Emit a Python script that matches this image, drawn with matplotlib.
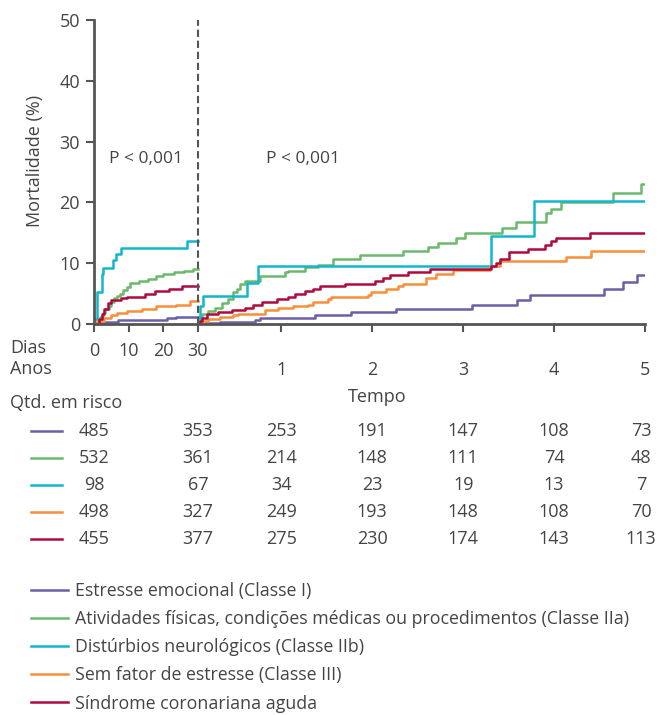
import numpy as np
import matplotlib
matplotlib.use('Agg')
import matplotlib.pyplot as plt
from matplotlib.lines import Line2D
from matplotlib.transforms import blended_transform_factory

plt.rcParams['font.family'] = ['Open Sans', 'DejaVu Sans']

# series names and colours
names = ['Estresse emocional (Classe I)',
         'Atividades físicas, condições médicas ou procedimentos (Classe IIa)',
         'Distúrbios neurológicos (Classe IIb)',
         'Sem fator de estresse (Classe III)',
         'Síndrome coronariana aguda']
colors = ['#6a5fa8', '#6bb96d', '#13b6cc', '#f78f3b', '#ae0a3e']

# first 30 days (days, mortality %)
days_I = [0, 1.5, 3.5, 6.8, 21, 23.6, 30]
mort_I = [0, 0.2, 0.4, 0.7, 1.0, 1.2, 1.2]
days_IIa = [0, 0.8, 1.7, 2.5, 3.3, 4.2, 5, 5.8, 6.6, 7.5, 8.4, 9.5, 10.5, 13, 15.5, 18, 20, 23, 26, 28.5, 30]
mort_IIa = [0, 0.6, 1.2, 1.8, 2.4, 3.0, 3.6, 4.2, 4.6, 5.0, 5.6, 6.1, 6.7, 7.0, 7.4, 7.9, 8.2, 8.5, 8.7, 9.0, 9.0]
days_IIb = [0, 0.96, 2.2, 2.7, 5.6, 6.3, 7.7, 26.9, 30]
mort_IIb = [0.8, 5.2, 8.2, 9.2, 10.5, 11.5, 12.5, 13.7, 13.7]
days_III = [0, 1, 3, 5, 6.7, 9.5, 14, 18, 23.6, 27.7, 30]
mort_III = [0, 0.5, 1.0, 1.4, 1.8, 2.2, 2.5, 2.9, 3.2, 3.8, 3.8]
days_SCA = [0, 1.3, 2.2, 2.9, 3.9, 4.8, 7.7, 9.5, 14.8, 17.7, 21.6, 25.5, 30]
mort_SCA = [0, 0.8, 1.6, 2.4, 3.4, 3.9, 4.2, 4.5, 5.0, 5.5, 5.8, 6.2, 6.2]

# from 30 days to 5 years (years, mortality %)
yrs_I = [0.082, 0.159, 0.324, 0.708, 0.763, 1.368, 1.771, 2.265, 3.101, 3.595, 3.730, 4.547, 4.763, 4.914, 5.0]
lt_I = [0, 0.2, 0.3, 0.6, 1.0, 1.5, 1.9, 2.4, 3.1, 3.9, 4.7, 5.8, 6.9, 8.1, 8.1]
yrs_IIa = [0.082, 0.10, 0.122, 0.195, 0.269, 0.342, 0.415, 0.470, 0.507, 0.543, 0.598, 0.763, 1.038, 1.074,
           1.258, 1.404, 1.569, 1.862, 2.338, 2.613, 2.722, 2.925, 3.016, 3.430, 3.584, 3.914, 3.969, 4.079,
           4.653, 4.958, 5.0]
lt_IIa = [0, 0.8, 1.6, 2.1, 2.6, 3.5, 4.1, 5.2, 5.7, 6.5, 7.0, 7.9, 8.5, 8.7, 9.3, 9.7, 10.7, 11.3, 12.0,
          12.7, 13.4, 14.1, 15.0, 15.8, 16.7, 18.2, 18.9, 20.0, 21.5, 23.0, 23.0]
yrs_IIb = [0.082, 0.104, 0.140, 0.617, 0.738, 3.309, 3.777, 5.0]
lt_IIb = [0, 3.0, 4.6, 6.8, 9.5, 14.5, 20.2, 20.2]
yrs_III = [0.082, 0.104, 0.195, 0.324, 0.470, 0.525, 0.818, 0.964, 1.129, 1.294, 1.349, 1.514, 1.551, 1.953,
           1.991, 2.155, 2.283, 2.338, 2.587, 2.705, 2.887, 3.291, 3.401, 4.133, 4.408, 5.0]
lt_III = [0, 0.5, 0.9, 1.2, 1.5, 1.7, 2.3, 2.6, 2.9, 3.2, 3.7, 4.1, 4.5, 4.8, 5.3, 5.7, 6.3, 6.6, 7.5, 8.2,
          8.9, 9.6, 10.3, 11.1, 12.0, 12.0]
yrs_SCA = [0.082, 0.105, 0.122, 0.177, 0.305, 0.452, 0.598, 0.690, 0.782, 0.947, 1.074, 1.148, 1.258, 1.349,
           1.423, 1.697, 2.027, 2.118, 2.192, 2.393, 2.631, 3.309, 3.364, 3.401, 3.503, 3.711, 3.895, 3.969,
           4.016, 4.397, 5.0]
lt_SCA = [0, 0.5, 1.0, 1.6, 1.9, 2.3, 2.6, 3.2, 3.7, 4.1, 4.5, 5.0, 5.4, 5.8, 6.3, 6.6, 7.0, 7.5, 8.1, 8.6,
          9.0, 9.6, 10.1, 10.7, 11.9, 12.4, 13.0, 13.7, 14.2, 15.0, 15.0]

# number at risk
risk_I = [485, 353, 253, 191, 147, 108, 73]
risk_IIa = [532, 361, 214, 148, 111, 74, 48]
risk_IIb = [98, 67, 34, 23, 19, 13, 7]
risk_III = [498, 327, 249, 193, 148, 108, 70]
risk_SCA = [455, 377, 275, 230, 174, 143, 113]

day_ticks = [0, 10, 20, 30]
year_ticks = [1, 2, 3, 4, 5]

short_days = [days_I, days_IIa, days_IIb, days_III, days_SCA]
short_mort = [mort_I, mort_IIa, mort_IIb, mort_III, mort_SCA]
long_yrs = [yrs_I, yrs_IIa, yrs_IIb, yrs_III, yrs_SCA]
long_mort = [lt_I, lt_IIa, lt_IIb, lt_III, lt_SCA]
risk = [risk_I, risk_IIa, risk_IIb, risk_III, risk_SCA]

# broken time axis: 30 days take the same width as 104/91 years
L = 104 / 91
land = 30 / 365


def xd(d):
    return np.asarray(d) / 30 * L


def xy(t):
    return L + np.asarray(t) - land


grey = '#555555'
txt = '#444444'

fig = plt.figure(figsize=(6.6, 7.15), dpi=100)
ax = fig.add_axes([94 / 660, 1 - 324 / 715, 551 / 660, 304 / 715])

handles = []
for i in range(5):
    ax.step(xd(short_days[i]), short_mort[i], where='post', color=colors[i], lw=1.8)
    h, = ax.step(xy(long_yrs[i]), long_mort[i], where='post', color=colors[i], lw=1.8)
    handles.append(h)

ax.axvline(L, color=grey, lw=1.5, ls=(0, (3.5, 1.8)))
ax.text(0.57, 27.2, 'P < 0,001', ha='center', va='center', fontsize=12.5, color=txt)
ax.text(2.3, 27.2, 'P < 0,001', ha='center', va='center', fontsize=12.5, color=txt)

ax.set_xlim(0, xy(5))
ax.set_ylim(0, 50)
ax.set_yticks([0, 10, 20, 30, 40, 50])
xt = list(xd(day_ticks)) + list(xy(year_ticks))
xl = [str(d) for d in day_ticks] + ['\n' + str(y) for y in year_ticks]
ax.set_xticks(xt, xl)
ax.tick_params(colors=grey, labelcolor=txt, labelsize=13, width=1.5, length=6, pad=7)
ax.tick_params(axis='y', pad=4)
for lab in ax.get_xticklabels():
    lab.set_linespacing(1.05)
for s in ['top', 'right']:
    ax.spines[s].set_visible(False)
for s in ['left', 'bottom']:
    ax.spines[s].set_color(grey)
    ax.spines[s].set_linewidth(2)

fig.text(35 / 660, 1 - 161 / 715, 'Mortalidade (%)', rotation=90, ha='center', va='center',
         fontsize=13, color=txt)
fig.text(10 / 660, 1 - 348 / 715, 'Dias', ha='left', va='center', fontsize=13, color=txt)
fig.text(10 / 660, 1 - 369 / 715, 'Anos', ha='left', va='center', fontsize=13, color=txt)
fig.text(377 / 660, 1 - 397 / 715, 'Tempo', ha='center', va='center', fontsize=13, color=txt)
fig.text(10 / 660, 1 - 403 / 715, 'Qtd. em risco', ha='left', va='center', fontsize=13, color=txt)

# number-at-risk table
tr = blended_transform_factory(ax.transData, fig.transFigure)
col_x = [xd(0), xd(30)] + list(xy(year_ticks))
col_x[-1] = col_x[-1] - 4 / 91
row_y = [431, 458, 485, 512, 539]
for i in range(5):
    y = 1 - row_y[i] / 715
    fig.add_artist(Line2D([31 / 660, 62 / 660], [y, y], color=colors[i], lw=1.8))
    for j in range(7):
        ax.text(col_x[j], y, str(risk[i][j]), transform=tr, ha='center', va='center',
                fontsize=13, color=txt)

fig.legend(handles, names, loc='upper left', bbox_to_anchor=(31 / 660, 1 - 582 / 715),
           frameon=False, fontsize=12.8, handlelength=2.1, handletextpad=0.35,
           labelspacing=0.57, borderpad=0, borderaxespad=0, labelcolor=txt)

fig.savefig('out.png', dpi=100)
